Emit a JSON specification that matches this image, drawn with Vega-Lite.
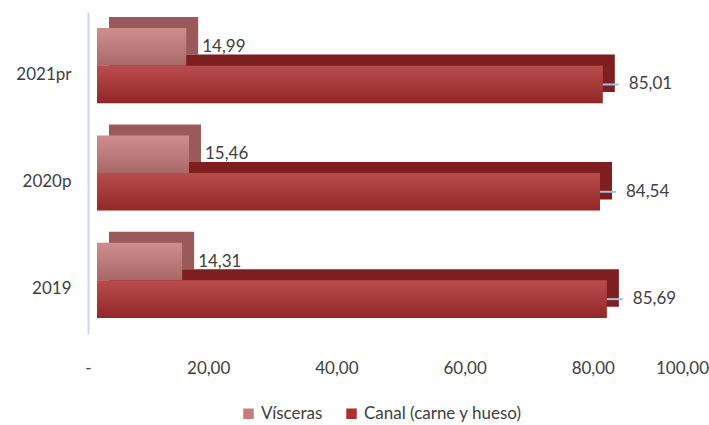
{
  "$schema": "https://vega.github.io/schema/vega-lite/v6.json",
  "width": 595,
  "height": 322,
  "autosize": {"type": "none"},
  "padding": {"left": 97, "top": 12, "right": 17, "bottom": 91},
  "config": {
    "view": {"stroke": null},
    "font": "Lato",
    "locale": {"number": {"decimal": ",", "thousands": ".", "grouping": [3], "currency": ["", " €"]}}
  },
  "data": {
    "values": [
      {"anio": "2021pr", "serie": "Vísceras", "valor": 14.99},
      {"anio": "2021pr", "serie": "Canal (carne y hueso)", "valor": 85.01},
      {"anio": "2020p", "serie": "Vísceras", "valor": 15.46},
      {"anio": "2020p", "serie": "Canal (carne y hueso)", "valor": 84.54},
      {"anio": "2019", "serie": "Vísceras", "valor": 14.31},
      {"anio": "2019", "serie": "Canal (carne y hueso)", "valor": 85.69}
    ]
  },
  "encoding": {
    "y": {
      "field": "anio",
      "type": "nominal",
      "sort": ["2021pr", "2020p", "2019"],
      "scale": {"paddingInner": 0.3, "paddingOuter": 0.15},
      "axis": {
        "title": null,
        "domainColor": "#c6d9f1",
        "domainWidth": 2,
        "ticks": false,
        "labelPadding": 17,
        "labelOffset": 9,
        "offset": 9,
        "labelFontSize": 17,
        "labelColor": "#404040"
      }
    },
    "x": {
      "field": "valor",
      "type": "quantitative",
      "scale": {"domain": [0, 100], "nice": false},
      "axis": null
    }
  },
  "layer": [
    {
      "mark": {"type": "bar", "xOffset": 12},
      "encoding": {
        "yOffset": {
          "field": "serie",
          "type": "nominal",
          "scale": {"domain": ["Vísceras", "Canal (carne y hueso)"], "range": [-11, 64], "paddingInner": 0, "paddingOuter": 0}
        },
        "color": {
          "field": "serie",
          "type": "nominal",
          "scale": {"domain": ["Vísceras", "Canal (carne y hueso)"], "range": ["#9a5a5a", "#7e1e1e"]},
          "legend": null
        }
      }
    },
    {
      "encoding": {
        "yOffset": {
          "field": "serie",
          "type": "nominal",
          "scale": {"domain": ["Vísceras", "Canal (carne y hueso)"], "paddingInner": 0, "paddingOuter": 0}
        }
      },
      "layer": [
        {
          "mark": {"type": "bar"},
          "encoding": {
            "color": {
              "field": "serie",
              "type": "nominal",
              "scale": {"domain": ["Vísceras", "Canal (carne y hueso)"], "range": ["#c87a7a", "#ad2e2e"]},
              "legend": {
                "orient": "none",
                "legendX": 143,
                "legendY": 393,
                "direction": "horizontal",
                "title": null,
                "symbolType": "square",
                "symbolSize": 110,
                "symbolStrokeWidth": 0,
                "labelFontSize": 17,
                "labelColor": "#404040",
                "columnPadding": 20,
                "labelOffset": 4,
                "padding": 0
              }
            }
          }
        },
        {
          "mark": {
            "type": "bar",
            "color": {
              "gradient": "linear",
              "x1": 0, "y1": 0, "x2": 0, "y2": 1,
              "stops": [
                {"offset": 0, "color": "rgba(255,255,255,0.14)"},
                {"offset": 1, "color": "rgba(0,0,0,0.16)"}
              ]
            }
          }
        },
        {
          "transform": [{"filter": "datum.serie == 'Canal (carne y hueso)'"}],
          "mark": {"type": "rule", "color": "#9dc3e6", "strokeWidth": 2, "x2Offset": 16},
          "encoding": {
            "x2": {"field": "valor"}
          }
        },
        {
          "transform": [{"filter": "datum.serie == 'Vísceras'"}],
          "mark": {"type": "text", "align": "left", "baseline": "middle", "dx": 16, "fontSize": 17, "color": "#404040"},
          "encoding": {
            "text": {"field": "valor", "type": "quantitative", "format": ".2f"}
          }
        },
        {
          "transform": [{"filter": "datum.serie == 'Canal (carne y hueso)'"}],
          "mark": {"type": "text", "align": "left", "baseline": "middle", "dx": 26, "fontSize": 17, "color": "#404040"},
          "encoding": {
            "text": {"field": "valor", "type": "quantitative", "format": ".2f"}
          }
        }
      ]
    },
    {
      "mark": {"type": "point", "opacity": 0},
      "encoding": {
        "x": {
          "field": "valor",
          "type": "quantitative",
          "scale": {"domain": [0, 100], "range": [-17, 624], "nice": false},
          "axis": {
            "orient": "bottom",
            "values": [0, 20, 40, 60, 80, 100],
            "format": ".2f",
            "labelExpr": "datum.value == 0 ? '-' : datum.label",
            "domain": false,
            "ticks": false,
            "grid": false,
            "title": null,
            "labelPadding": 26,
            "labelFontSize": 17,
            "labelColor": "#404040",
            "labelFlush": false,
            "labelBound": false,
            "labelOverlap": false,
            "labelOffset": {
              "condition": [
                {"test": "datum.value == 100", "value": -39},
                {"test": "datum.value == 0", "value": 8}
              ],
              "value": 0
            }
          }
        }
      }
    }
  ],
  "resolve": {"scale": {"color": "independent", "x": "independent", "yOffset": "independent"}}
}
